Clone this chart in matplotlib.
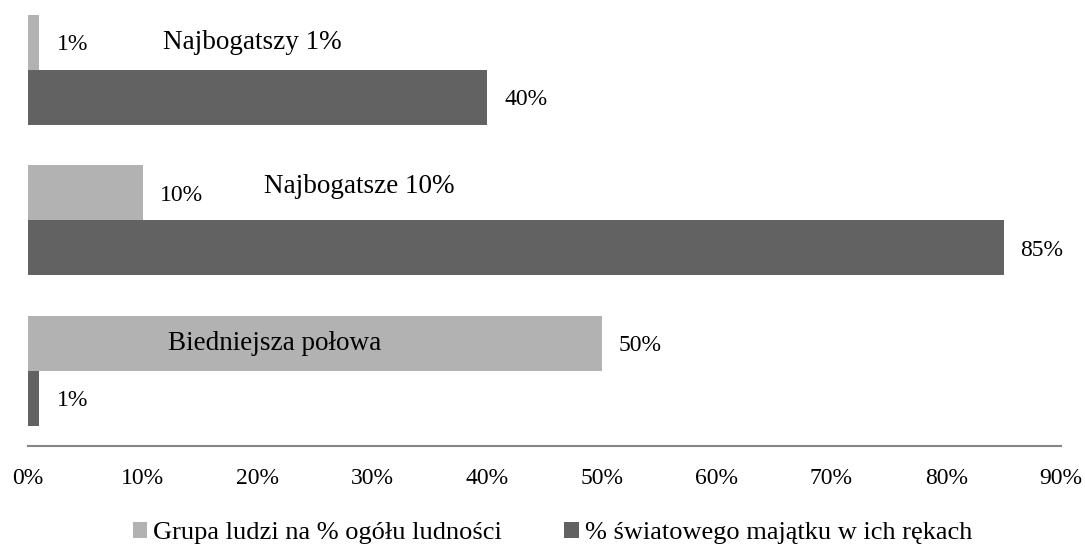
import matplotlib
matplotlib.use("Agg")
import matplotlib.pyplot as plt
from matplotlib.patches import Patch

plt.rcParams['font.family'] = ['Liberation Serif', 'DejaVu Serif']

groups = ["Biedniejsza połowa", "Najbogatsze 10%", "Najbogatszy 1%"]
population_share = [50, 10, 1]
wealth_share = [1, 85, 40]
series_names = ["Grupa ludzi na % ogółu ludności", "% światowego majątku w ich rękach"]
x_ticks = [0, 10, 20, 30, 40, 50, 60, 70, 80, 90]
x_tick_labels = ["0%", "10%", "20%", "30%", "40%", "50%", "60%", "70%", "80%", "90%"]

# positions of in-chart group captions (data coords)
caption_x = [21.5, 28.9, 19.5]
caption_dy = [0.136, 0.182, 0.139]

light = "#b2b2b2"
dark = "#626262"

fig = plt.figure(figsize=(10.85, 5.44), dpi=100)
ax = fig.add_axes([28/1085, 98/544, (1061-28)/1085, 451.4/544])

h = 0.365
ypos = list(range(len(groups)))
ax.barh([y + h/2 for y in ypos], population_share, height=h, color=light, linewidth=0)
ax.barh([y - h/2 for y in ypos], wealth_share, height=h, color=dark, linewidth=0)

for y, v in zip(ypos, population_share):
    ax.annotate(f"{v}%", xy=(v, y + h/2), xytext=(12.2, -5.6), textcoords='offset points',
                va='baseline', ha='left', fontsize=17, color='black')
for y, v in zip(ypos, wealth_share):
    ax.annotate(f"{v}%", xy=(v, y - h/2), xytext=(12.2, -5.6), textcoords='offset points',
                va='baseline', ha='left', fontsize=17, color='black')

for y, g, cx, dy in zip(ypos, groups, caption_x, caption_dy):
    ax.text(cx, y + dy, g, ha='center', va='baseline', fontsize=19.5, color='black')

ax.set_xlim(0, 90)
ax.set_ylim(-0.5, 2.5)
ax.set_xticks(x_ticks)
ax.set_xticklabels(x_tick_labels, fontsize=17)
ax.set_yticks([])
ax.tick_params(axis='x', length=0, pad=16)
for s in ['top', 'right', 'left']:
    ax.spines[s].set_visible(False)
ax.spines['bottom'].set_color('#868686')
ax.spines['bottom'].set_linewidth(1.5)

handles = [Patch(facecolor=light, edgecolor='none'), Patch(facecolor=dark, edgecolor='none')]
fig.legend(handles, series_names, loc='lower center', bbox_to_anchor=(0.509, 0.0),
           ncol=2, frameon=False, fontsize=19, handlelength=0.55, handleheight=0.55,
           handletextpad=0.23, columnspacing=2.35, borderpad=0, borderaxespad=0)

fig.savefig("out.png", dpi=100)
